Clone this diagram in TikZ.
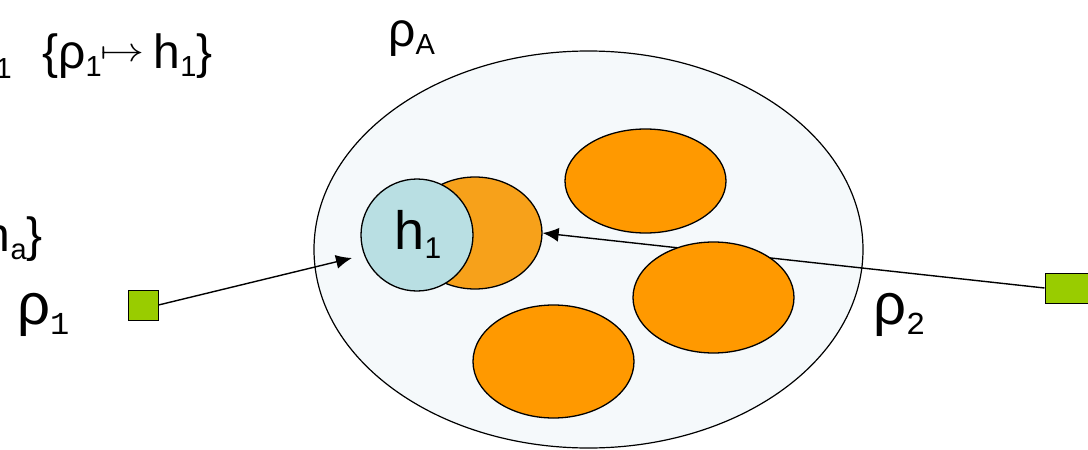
\documentclass[tikz,border=0pt]{standalone}
\usepackage{fontspec}
\usepackage{graphicx}
\setmainfont{Liberation Sans}
\setmonofont{Liberation Mono}
\usetikzlibrary{shapes.geometric,arrows.meta}
\definecolor{bigfill}{HTML}{F5F9FB}
\definecolor{orng}{HTML}{FF9900}
\definecolor{orngb}{HTML}{F7A11A}
\definecolor{hfill}{HTML}{B9DFE3}
\definecolor{grn}{HTML}{99CC00}
\newcommand{\sbs}[2]{\raisebox{-0.32ex}{\fontsize{#1}{#1}\selectfont #2}}
\newcommand{\bigmapsto}{\raisebox{7pt}{\fontsize{10}{12}\selectfont\scalebox{4.4}[3.4]{$\mapsto$}}}
\begin{document}
\begin{tikzpicture}[x=1pt,y=-1pt,
  blob/.style={ellipse,draw=black,line width=1.3pt,fill=orng,inner sep=0pt},
  sq/.style={rectangle,draw=black,line width=1pt,fill=grn,minimum width=30pt,minimum height=30pt,inner sep=0pt},
  conn/.style={line width=1.4pt,-{Latex[length=16pt,width=14pt]}},
  lbl/.style={inner sep=0pt,font=\fontsize{48}{52}\selectfont}]
\useasboundingbox (0,0) rectangle (1088,450);
% outer ellipse
\node[ellipse,draw=black,line width=1.2pt,fill=bigfill,minimum width=549pt,minimum height=397pt,inner sep=0pt] (big) at (588.5,249.5) {};
% squares
\node[sq] (sqL) at (143,305) {};
\node[sq,minimum width=44pt] (sqR) at (1067,288) {};
% arrow 2 drawn behind the orange shapes
\node[blob,fill=orngb,minimum width=134pt,minimum height=112pt] (ob1) at (475,233) {};
\draw[conn] (sqR.west) -- (ob1.east);
\node[blob,minimum width=161pt,minimum height=104pt] (ob2) at (645.5,181) {};
\node[blob,minimum width=161pt,minimum height=111pt] (ob3) at (713.5,297.5) {};
\node[blob,minimum width=161pt,minimum height=113pt] (ob4) at (553.5,361.5) {};
% h1 circle
\node[circle,draw=black,line width=1.3pt,fill=hfill,minimum size=112pt,inner sep=0pt] (h1) at (417,235) {};
\node[lbl,anchor=base,font=\fontsize{54}{58}\selectfont] (h1t) at (418,249) {h\sbs{30}{1}};
% arrow 1
\coordinate (tipL) at (352,258);
\draw[conn] (sqL.east) -- (tipL);
% labels
\node[lbl,anchor=base west] (rhoA) at (388,46) {ρ\sbs{29}{A}};
\node[lbl,anchor=base west] (map) at (42,68) {\{ρ\sbs{29}{1}\kern-1pt\bigmapsto\kern9pt h\sbs{29}{1}\}};
\node[lbl,anchor=base east,font=\fontsize{29}{30}\selectfont] (one) at (12,78) {1};
\node[lbl,anchor=base east] (ha) at (43,251) {h\sbs{29}{a}\}};
\node[lbl,anchor=base west,font=\fontsize{58}{62}\selectfont] (rho1) at (17,324) {ρ\raisebox{-0.35ex}{\ttfamily\fontsize{32}{32}\selectfont 1}};
\node[lbl,anchor=base west,font=\fontsize{58}{62}\selectfont] (rho2) at (873,324) {ρ\raisebox{-0.35ex}{\ttfamily\fontsize{32}{32}\selectfont 2}};
\end{tikzpicture}
\end{document}
